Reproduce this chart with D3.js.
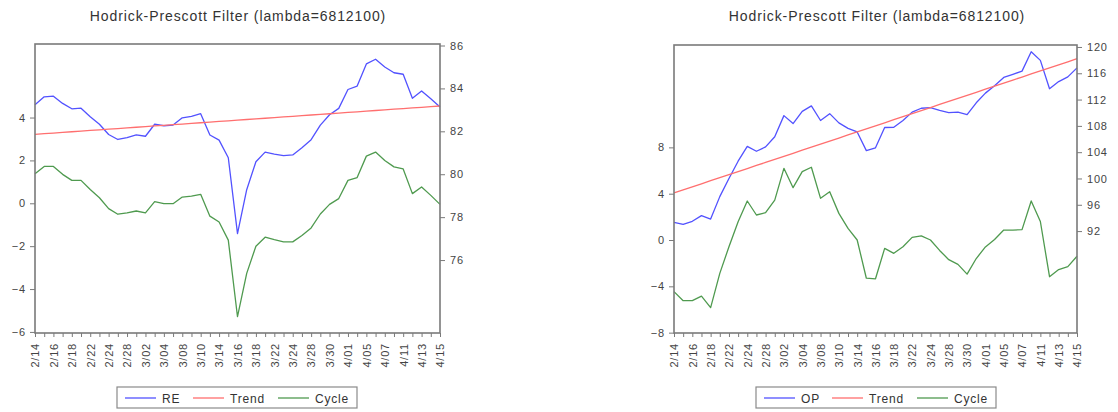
<!DOCTYPE html>
<html>
<head>
<meta charset="utf-8">
<script src="https://cdn.jsdelivr.net/npm/d3@7"></script>
<style>
  html, body { margin: 0; padding: 0; background: #fff; }
  svg { display: block; font-family: "Liberation Sans", Arial, sans-serif; }
  .title { font-size: 14px; fill: #333; letter-spacing: 0.9px; }
  .tick text { font-size: 11px; fill: #444; letter-spacing: 0.8px; }
  .tick line { stroke: #7a7a7a; stroke-width: 1; }
  .frame { fill: none; stroke: #7a7a7a; stroke-width: 1.6; }
  .series { fill: none; stroke-width: 1.3; stroke-linejoin: round; }
  .legend-box { fill: #fff; stroke: #8a8a8a; stroke-width: 1.2; }
  .legend-text { font-size: 12px; fill: #333; letter-spacing: 0.8px; }
</style>
</head>
<body>
<div id="chart"></div>
<script>
  // Business days 2011-02-14 .. 2011-04-15 (45 observations)
  var DATES = ["2/14","2/15","2/16","2/17","2/18","2/21","2/22","2/23","2/24","2/25","2/28",
    "3/01","3/02","3/03","3/04","3/07","3/08","3/09","3/10","3/11","3/14","3/15","3/16","3/17","3/18",
    "3/21","3/22","3/23","3/24","3/25","3/28","3/29","3/30","3/31",
    "4/01","4/04","4/05","4/06","4/07","4/08","4/11","4/12","4/13","4/14","4/15"];

  // left panel: RE
  var RE = [83.24,83.61,83.64,83.30,83.05,83.08,82.68,82.33,81.85,81.62,81.71,81.83,81.77,82.33,82.26,
    82.29,82.63,82.70,82.82,81.83,81.59,80.77,77.23,79.28,80.58,81.03,80.94,80.87,80.90,81.23,
    81.61,82.29,82.77,83.07,83.95,84.11,85.14,85.36,85.00,84.73,84.66,83.54,83.88,83.52,83.13];
  var RE_TREND = [81.86,81.89,81.92,81.95,81.98,82.01,82.04,82.07,82.10,82.13,82.16,82.19,82.22,82.25,82.28,
    82.31,82.34,82.37,82.40,82.43,82.46,82.49,82.52,82.55,82.58,82.61,82.64,82.67,82.70,82.73,
    82.76,82.79,82.82,82.85,82.88,82.91,82.94,82.97,83.00,83.03,83.06,83.09,83.12,83.15,83.18];
  var RE_CYCLE = [1.38,1.72,1.72,1.35,1.07,1.07,0.64,0.26,-0.25,-0.51,-0.45,-0.36,-0.45,0.08,-0.02,
    -0.02,0.29,0.33,0.42,-0.60,-0.87,-1.72,-5.29,-3.27,-2.00,-1.58,-1.70,-1.80,-1.80,-1.50,
    -1.15,-0.50,-0.05,0.22,1.07,1.20,2.20,2.39,2.00,1.70,1.60,0.45,0.76,0.37,-0.05];

  // right panel: OP
  var OP = [93.34,93.02,93.49,94.35,93.82,97.24,100.00,102.63,104.88,104.14,104.80,106.35,109.56,108.35,110.20,
    111.04,108.82,109.86,108.45,107.62,107.08,104.24,104.66,107.75,107.79,108.82,110.09,110.68,110.79,110.36,
    110.02,110.08,109.70,111.51,112.98,114.09,115.36,115.83,116.33,119.27,117.96,113.65,114.74,115.45,116.82];
  var OP_TREND = [97.80,98.26,98.73,99.19,99.66,100.12,100.58,101.05,101.51,101.98,102.44,102.90,103.37,103.83,104.30,
    104.76,105.22,105.69,106.15,106.62,107.08,107.54,108.01,108.47,108.94,109.40,109.86,110.33,110.79,111.26,
    111.72,112.18,112.65,113.11,113.58,114.04,114.50,114.97,115.43,115.90,116.36,116.82,117.29,117.75,118.22];
  var OP_CYCLE = [-4.46,-5.24,-5.24,-4.84,-5.84,-2.88,-0.58,1.58,3.37,2.16,2.36,3.45,6.19,4.52,5.90,
    6.28,3.60,4.17,2.30,1.00,0.00,-3.30,-3.35,-0.72,-1.15,-0.58,0.23,0.35,0.00,-0.90,
    -1.70,-2.10,-2.95,-1.60,-0.60,0.05,0.86,0.86,0.90,3.37,1.60,-3.17,-2.55,-2.30,-1.40];

  var TITLE = "Hodrick-Prescott Filter (lambda=6812100)";
  var RE_LEFT_TICKS = [-6, -4, -2, 0, 2, 4];
  var RE_RIGHT_TICKS = [76, 78, 80, 82, 84, 86];
  var OP_LEFT_TICKS = [-8, -4, 0, 4, 8];
  var OP_RIGHT_TICKS = [92, 96, 100, 104, 108, 112, 116, 120];
  var NAMES_RE = ["RE", "Trend", "Cycle"];
  var NAMES_OP = ["OP", "Trend", "Cycle"];

  var COLORS = ["#5252ff", "#ff6f6f", "#4f9a4f"];

  var W = 1118, H = 412;
  var svg = d3.select("#chart").append("svg").attr("width", W).attr("height", H);

  function panel(cfg) {
    var g = svg.append("g");
    var x = d3.scaleLinear().domain([0, DATES.length - 1]).range([cfg.x0, cfg.x1]);
    var yL = d3.scaleLinear().domain(cfg.leftDomain).range([cfg.y1, cfg.y0]);
    var yR = d3.scaleLinear().domain(cfg.rightDomain).range([cfg.y1, cfg.y0]);

    g.append("text").attr("class", "title")
      .attr("x", cfg.titleX).attr("y", 21).attr("text-anchor", "middle").text(TITLE);

    // axes
    var ax = g.append("g").attr("transform", "translate(0," + cfg.y1 + ")")
      .call(d3.axisBottom(x).tickValues(d3.range(DATES.length)).tickSize(4)
        .tickFormat(function (i) { return i % 2 === 0 ? DATES[i] : ""; }));
    ax.select(".domain").remove();
    ax.selectAll("text").attr("transform", "rotate(-90)")
      .attr("text-anchor", "end").attr("x", -10).attr("y", 0).attr("dy", "0.35em");

    var al = g.append("g").attr("transform", "translate(" + cfg.x0 + ",0)")
      .call(d3.axisLeft(yL).tickValues(cfg.leftTicks).tickSize(5).tickPadding(4).tickFormat(d3.format("d")));
    al.select(".domain").remove();

    var ar = g.append("g").attr("transform", "translate(" + cfg.x1 + ",0)")
      .call(d3.axisRight(yR).tickValues(cfg.rightTicks).tickSize(5).tickPadding(5).tickFormat(d3.format("d")));
    ar.select(".domain").remove();

    // series
    var lineR = d3.line().x(function (d, i) { return x(i); }).y(function (d) { return yR(d); });
    var lineL = d3.line().x(function (d, i) { return x(i); }).y(function (d) { return yL(d); });
    g.append("path").attr("class", "series").attr("stroke", COLORS[0]).attr("d", lineR(cfg.series));
    g.append("path").attr("class", "series").attr("stroke", COLORS[1]).attr("d", lineR(cfg.trend));
    g.append("path").attr("class", "series").attr("stroke", COLORS[2]).attr("d", lineL(cfg.cycle));

    g.append("rect").attr("class", "frame")
      .attr("x", cfg.x0).attr("y", cfg.y0).attr("width", cfg.x1 - cfg.x0).attr("height", cfg.y1 - cfg.y0);

    // legend
    var lg = g.append("g").attr("transform", "translate(" + cfg.legendX + ",387)");
    lg.append("rect").attr("class", "legend-box").attr("width", 240).attr("height", 21);
    var offs = [8, 76, 161];
    var textW = [0, 0, 0];
    cfg.names.forEach(function (name, k) {
      lg.append("line").attr("x1", offs[k]).attr("x2", offs[k] + 31)
        .attr("y1", 11).attr("y2", 11).attr("stroke", COLORS[k]).attr("stroke-width", 1.3);
      lg.append("text").attr("class", "legend-text").attr("x", offs[k] + 37).attr("y", 15.5).text(name);
    });
  }

  panel({
    x0: 35, x1: 440, y0: 44, y1: 333,
    leftDomain: [-6.05, 7.43], rightDomain: [72.6, 86.07],
    leftTicks: RE_LEFT_TICKS, rightTicks: RE_RIGHT_TICKS,
    series: RE, trend: RE_TREND, cycle: RE_CYCLE,
    names: NAMES_RE, titleX: 238, legendX: 117
  });

  panel({
    x0: 674, x1: 1077, y0: 45, y1: 333,
    leftDomain: [-8.03, 16.84], rightDomain: [76.5, 120.3],
    leftTicks: OP_LEFT_TICKS, rightTicks: OP_RIGHT_TICKS,
    series: OP, trend: OP_TREND, cycle: OP_CYCLE,
    names: NAMES_OP, titleX: 877, legendX: 756
  });
</script>
</body>
</html>
